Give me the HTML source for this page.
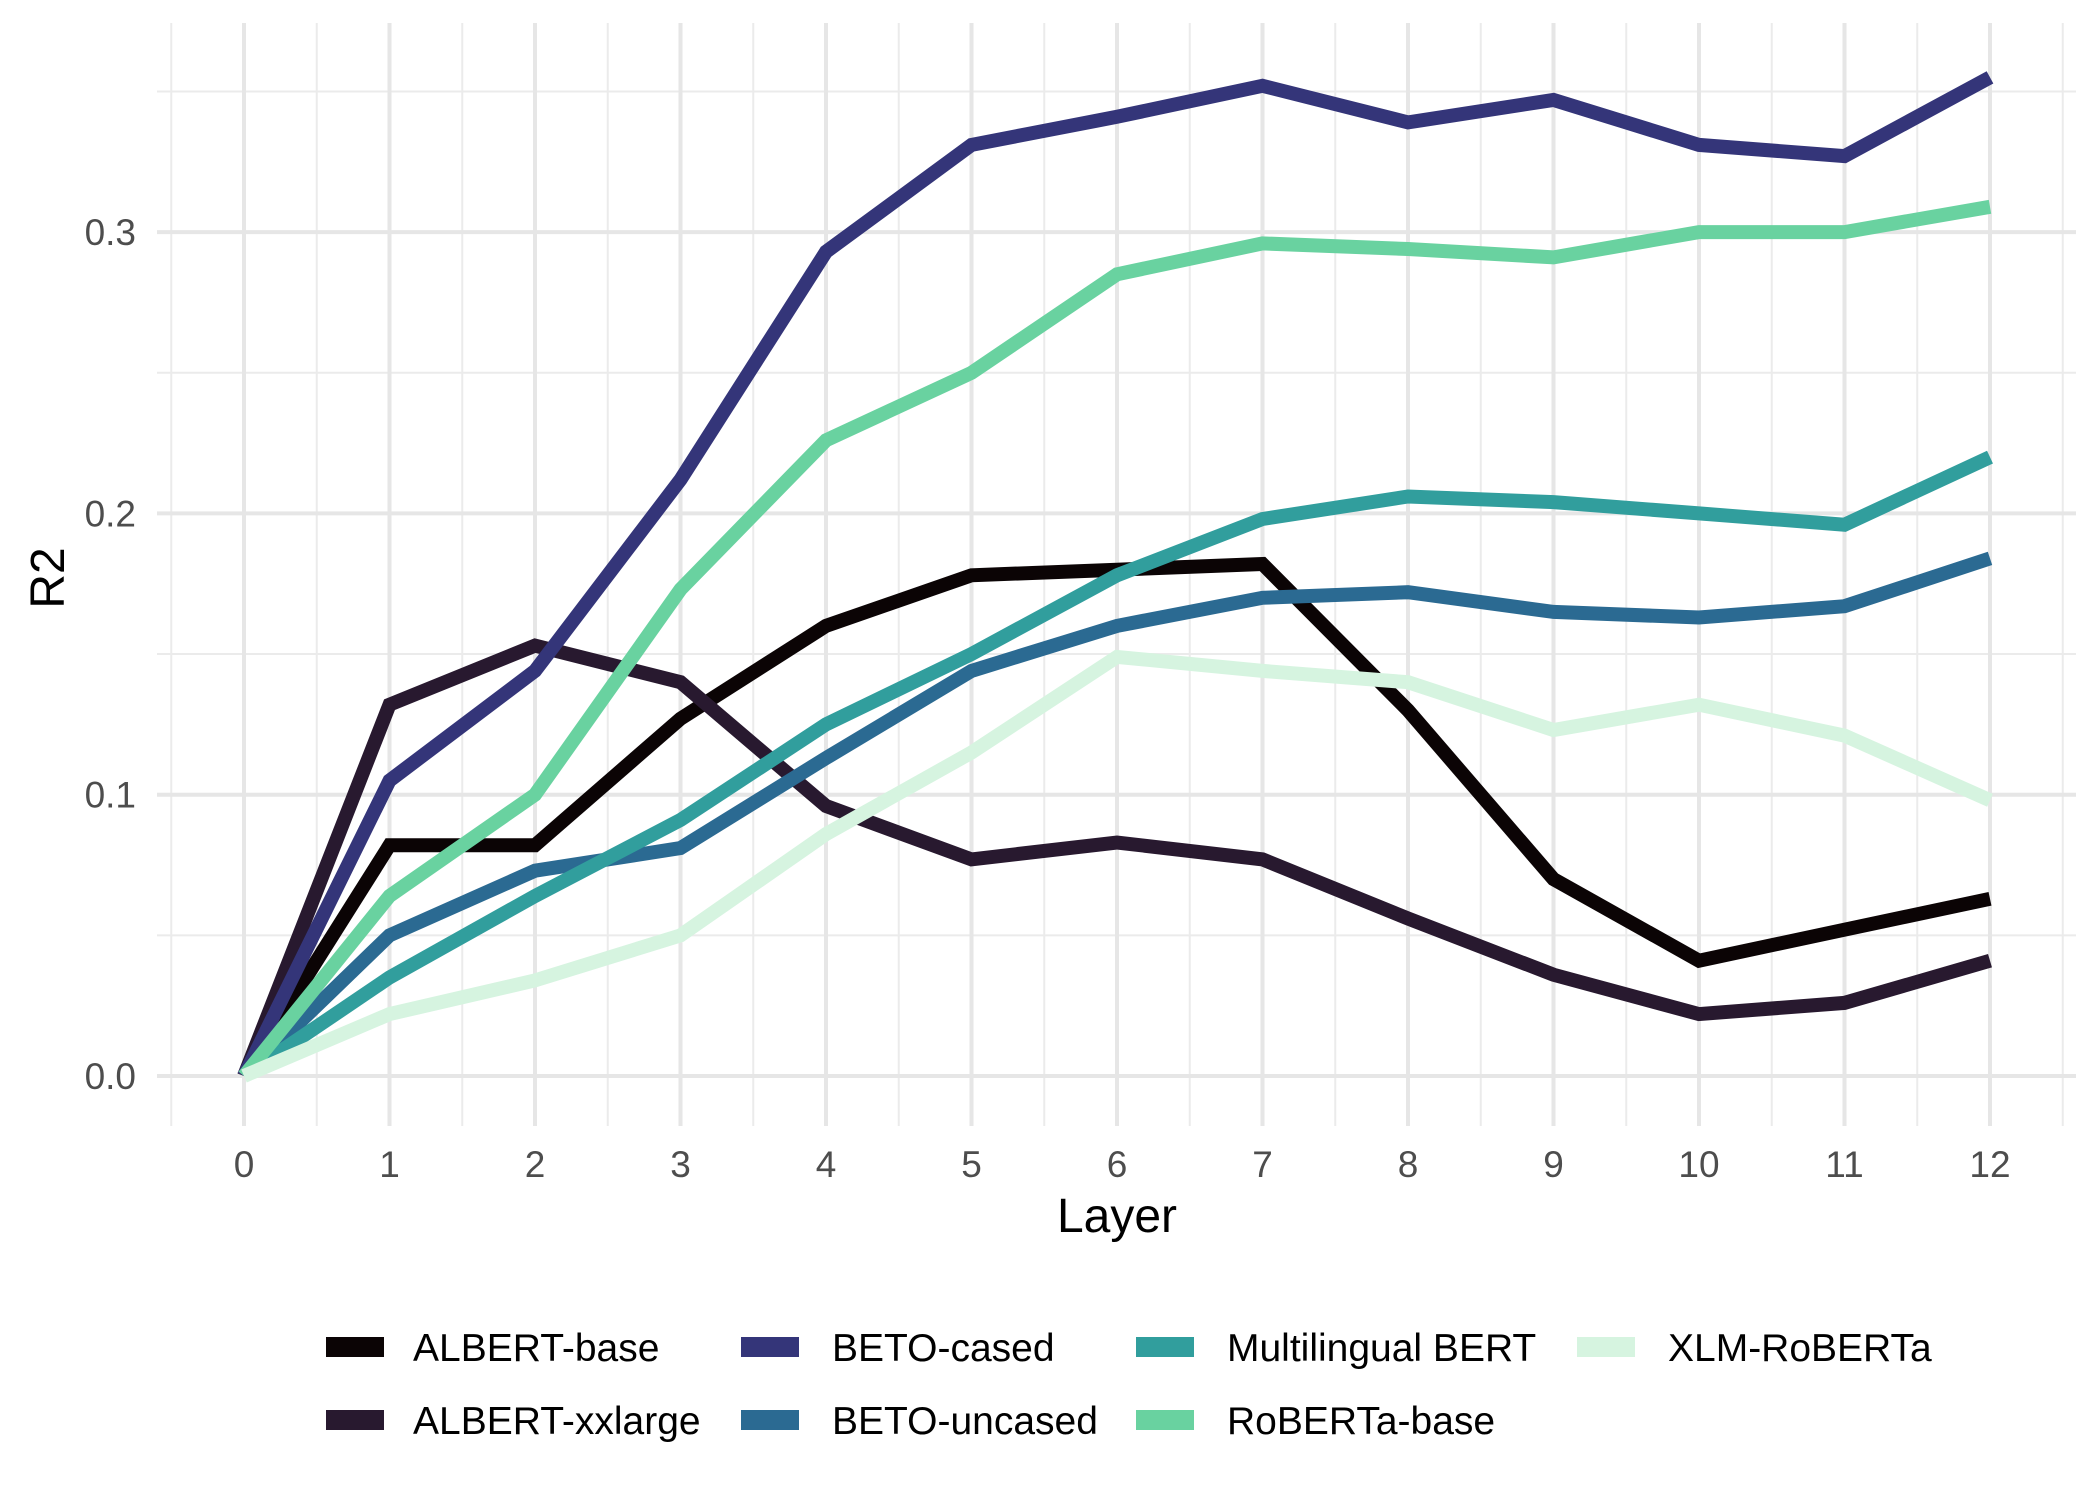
<!DOCTYPE html>
<html><head><meta charset="utf-8"><style>
html,body{margin:0;padding:0;background:#fff}
svg{display:block;font-family:"Liberation Sans",sans-serif}
</style></head><body>
<svg id="chart" width="2100" height="1500" viewBox="0 0 2100 1500" xmlns="http://www.w3.org/2000/svg">
<g id="grid"></g>
<g id="lines"></g>
<g id="axes"></g>
<g id="legend"></g>
</svg>
<script>
const layers = [0,1,2,3,4,5,6,7,8,9,10,11,12];
const yTicks = [0.0,0.1,0.2,0.3];
const yTickLabels = ["0.0","0.1","0.2","0.3"];
const seriesNames = ["ALBERT-base","ALBERT-xxlarge","BETO-cased","BETO-uncased","Multilingual BERT","RoBERTa-base","XLM-RoBERTa"];
const seriesColors = ["#0b0405","#28192f","#343579","#2b6a92","#319e9d","#69d2a0","#d6f4e0"];
const albertBase    = [0,0.082,0.082,0.127,0.160,0.178,0.180,0.182,0.130,0.070,0.041,0.052,0.063];
const albertXxlarge = [0,0.132,0.153,0.140,0.096,0.077,0.083,0.077,0.056,0.036,0.022,0.026,0.041];
const betoCased     = [0,0.105,0.144,0.212,0.293,0.331,0.341,0.352,0.339,0.347,0.331,0.327,0.355];
const betoUncased   = [0,0.050,0.073,0.081,0.113,0.144,0.160,0.170,0.172,0.165,0.163,0.167,0.184];
const multiBert     = [0,0.035,0.064,0.091,0.125,0.150,0.178,0.198,0.206,0.204,0.200,0.196,0.220];
const robertaBase   = [0,0.064,0.100,0.173,0.226,0.250,0.285,0.296,0.294,0.291,0.300,0.300,0.309];
const xlmRoberta    = [0,0.022,0.034,0.050,0.086,0.115,0.149,0.144,0.140,0.123,0.132,0.121,0.098];
const seriesValues = [albertBase,albertXxlarge,betoCased,betoUncased,multiBert,robertaBase,xlmRoberta];

const NS="http://www.w3.org/2000/svg";
const X0=244, X12=1990, Y0=1076, PER=2813;
const xs = v => X0 + (v-0)*(X12-X0)/12;
const ys = v => Y0 - v*PER;
const pTop=23, pBot=1126, pLeft=157, pRight=2076;
function mk(tag,attrs,parent){const e=document.createElementNS(NS,tag);for(const k in attrs)e.setAttribute(k,attrs[k]);parent.appendChild(e);return e;}
const grid=document.getElementById('grid'), lines=document.getElementById('lines'), axes=document.getElementById('axes'), legend=document.getElementById('legend');
for(let v=0.05; ys(v)>pTop; v+=0.1){
  const l=mk('line',{x1:pLeft,x2:pRight,y1:ys(v),y2:ys(v),stroke:'#ebebeb','stroke-width':2},grid);
  
  
}
for(let v=-0.5; v<=12.5; v+=1){
  const l=mk('line',{x1:xs(v),x2:xs(v),y1:pTop,y2:pBot,stroke:'#ebebeb','stroke-width':2},grid);
  
  
}
yTicks.forEach((v,i)=>{
  const l=mk('line',{x1:pLeft,x2:pRight,y1:ys(v),y2:ys(v),stroke:'#e6e6e6','stroke-width':4},grid);
  
  
  const t=mk('text',{x:136,y:ys(v)+13,'text-anchor':'end','font-size':37,fill:'#4d4d4d'},axes);
  t.textContent=yTickLabels[i];
  
  
});
layers.forEach(v=>{
  const l=mk('line',{x1:xs(v),x2:xs(v),y1:pTop,y2:pBot,stroke:'#e6e6e6','stroke-width':4},grid);
  
  
  const t=mk('text',{x:xs(v),y:1177,'text-anchor':'middle','font-size':37,fill:'#4d4d4d'},axes);
  t.textContent=String(v);
  
  
});
const xt=mk('text',{x:(X0+X12)/2,y:1232,'text-anchor':'middle','font-size':48,fill:'#000'},axes);
xt.textContent='Layer';


const yt=mk('text',{x:0,y:0,'text-anchor':'middle','font-size':48,fill:'#000',transform:'translate(64,578) rotate(-90)'},axes);
yt.textContent='R2';


seriesValues.forEach((vals,i)=>{
  const d=vals.map((v,j)=>(j?'L':'M')+xs(layers[j]).toFixed(1)+','+ys(v).toFixed(1)).join(' ');
  const p=mk('path',{d:d,fill:'none',stroke:seriesColors[i],'stroke-width':14,'stroke-linejoin':'miter','stroke-linecap':'butt'},lines);
  
  
});
const colSw=[326,741,1136,1577], colTx=[413,832,1227,1668], rowY=[1347,1420];
const order=[[0,2,4,6],[1,3,5,-1]];
order.forEach((row,r)=>row.forEach((si,c)=>{
  if(si<0)return;
  const g=mk('g',{},legend);
  
  
  mk('rect',{x:colSw[c],y:rowY[r]-10,width:58,height:20,fill:seriesColors[si]},g);
  const t=mk('text',{x:colTx[c],y:rowY[r]+14,'font-size':39,fill:'#000'},g);
  t.textContent=seriesNames[si];
}));
</script>
</body></html>
